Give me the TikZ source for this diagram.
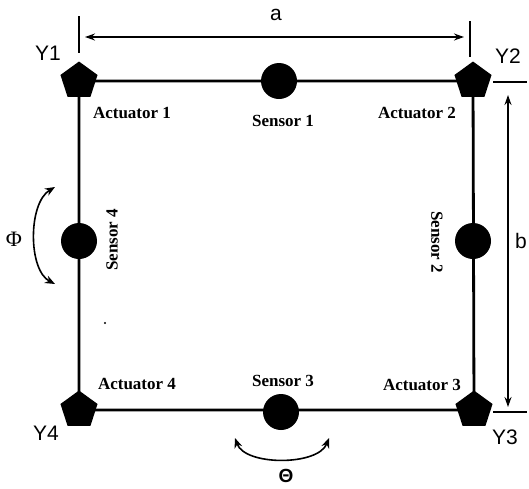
\documentclass[tikz,border=0pt]{standalone}
\usepackage{fontspec}
\setmainfont{Liberation Serif}
\newfontfamily\lsans{Liberation Sans}
\usetikzlibrary{shapes.geometric,arrows.meta}
\tikzset{
  act/.style={regular polygon, regular polygon sides=5, fill=black, inner sep=0pt, minimum size=39pt},
  sens/.style={circle, fill=black, inner sep=0pt, minimum size=36pt},
  frame/.style={line width=2.8pt},
  lbl/.style={font=\fontsize{17}{19}\selectfont\bfseries, inner sep=0pt},
  ylbl/.style={font=\lsans\fontsize{21}{24}\selectfont, inner sep=0pt},
  tick/.style={line width=1.6pt},
  dim/.style={line width=1.4pt, {Stealth[length=10pt,width=7pt]}-{Stealth[length=10pt,width=7pt]}},
  rot/.style={line width=1.6pt, {Stealth[length=10pt,width=8pt]}-{Stealth[length=10pt,width=8pt]}}
}
\begin{document}
\begin{tikzpicture}[x=1pt,y=-1pt]
\useasboundingbox (0,0) rectangle (529,488);
% corners
\node[act] (A1) at (79,81) {};
\node[act] (A2) at (473,81) {};
\node[act] (A3) at (474,410) {};
\node[act] (A4) at (79,410) {};
% frame
\draw[frame] (A1.center) -- (A2.center) -- (A3.center) -- (A4.center) -- cycle;
% sensors
\node[sens] (S1) at (279,81) {};
\node[sens] (S2) at (473,241) {};
\node[sens] (S3) at (281,412) {};
\node[sens] (S4) at (79,241) {};
% labels
\node[lbl] (L1) at (132,113) {Actuator 1};
\node[lbl] (L2) at (417,113) {Actuator 2};
\node[lbl] (L3) at (422,385) {Actuator 3};
\node[lbl] (L4) at (137,384) {Actuator 4};
\node[lbl] (LS1) at (283,121) {Sensor 1};
\node[lbl] (LS3) at (283,381) {Sensor 3};
\node[lbl, rotate=90] (LS4) at (112,240) {Sensor 4};
\node[lbl, rotate=-90] (LS2) at (437,242) {Sensor 2};
\node[ylbl] (Y1) at (48,53) {Y1};
\node[ylbl] (Y2) at (508,56) {Y2};
\node[ylbl] (Y3) at (505,437) {Y3};
\node[ylbl] (Y4) at (46,433) {Y4};
% dimension a
\coordinate (ta1) at (79,16);
\coordinate (tb1) at (79,53);
\coordinate (ta2) at (470,21);
\coordinate (tb2) at (470,57);
\draw[tick] (ta1) -- (tb1);
\draw[tick] (ta2) -- (tb2);
\coordinate (da1) at (85,37);
\coordinate (da2) at (464,37);
\draw[dim] (da1) -- (da2);
\node[ylbl] (la) at (276,15) {a};
% dimension b
\coordinate (tc1) at (493,82);
\coordinate (td1) at (527,82);
\coordinate (tc2) at (493,412);
\coordinate (td2) at (527,412);
\draw[tick] (tc1) -- (td1);
\draw[tick] (tc2) -- (td2);
\coordinate (db1) at (508,95);
\coordinate (db2) at (508,407);
\draw[dim] (db1) -- (db2);
\node[ylbl] (lb) at (521,241) {b};
% rotation Phi
\coordinate (p1) at (55,187);
\coordinate (p2) at (55,284);
\draw[rot] (p1) .. controls (28,203) and (28,270) .. (p2);
\node[font=\fontsize{22}{24}\selectfont, inner sep=0pt] (phi) at (14,239) {Φ};
% rotation Theta
\coordinate (q1) at (235,438);
\coordinate (q2) at (329,438);
\draw[rot] (q1) .. controls (245,466) and (318,466) .. (q2);
\node[font=\lsans\bfseries\fontsize{19}{22}\selectfont, inner sep=0pt] (theta) at (286,476) {Θ};
% speck
\fill (105,323) circle (1.1);
\end{tikzpicture}
\end{document}
